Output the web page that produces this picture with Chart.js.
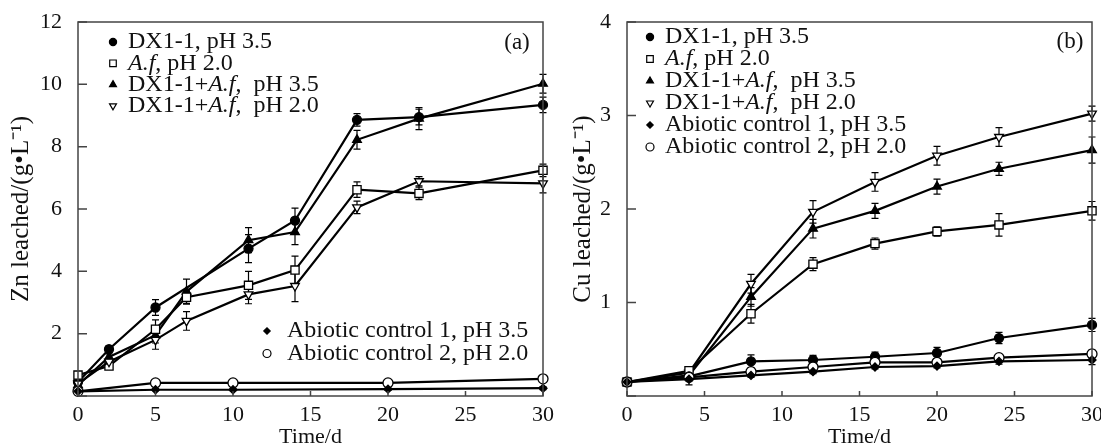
<!DOCTYPE html>
<html>
<head>
<meta charset="utf-8">
<script src="https://cdn.jsdelivr.net/npm/chart.js@4.4.0/dist/chart.umd.min.js"></script>
<style>
body { margin: 0; background: #fff; width: 1101px; height: 448px; overflow: hidden; }
.panel { position: absolute; top: 0; height: 448px; }
#panelA { left: 0; width: 565px; }
#panelB { left: 550px; width: 551px; }
</style>
</head>
<body>
<div class="panel" id="panelA"><canvas id="chartA" width="565" height="448"></canvas></div>
<div class="panel" id="panelB"><canvas id="chartB" width="551" height="448"></canvas></div>
<script>
// leaching data, days and g/L

// (a) zinc
var znDays = [0, 2, 5, 7, 11, 14, 18, 22, 30];
var znDaysDx = [0, 2, 5, 11, 14, 18, 22, 30];
var znDaysCtrl = [0, 5, 10, 20, 30];

var znDx = [0.45, 1.5, 2.84, 4.73, 5.63, 8.86, 8.95, 9.34];
var znDxErr = [0.08, 0.1, 0.25, 0.45, 0.4, 0.2, 0.25, 0.25];
var znAf = [0.67, 0.96, 2.14, 3.17, 3.55, 4.04, 6.62, 6.5, 7.24];
var znAfErr = [0.1, 0.08, 0.3, 0.2, 0.45, 0.45, 0.25, 0.2, 0.2];
var znMix35 = [0.35, 1.25, 1.95, 3.35, 5.0, 5.26, 8.22, 8.9, 10.02];
var znMix35Err = [0.08, 0.1, 0.25, 0.4, 0.4, 0.4, 0.3, 0.35, 0.3];
var znMix20 = [0.4, 1.1, 1.8, 2.41, 3.26, 3.53, 6.05, 6.89, 6.82];
var znMix20Err = [0.08, 0.1, 0.3, 0.3, 0.3, 0.5, 0.2, 0.15, 0.3];
var znCtrl1 = [0.15, 0.2, 0.2, 0.22, 0.25];
var znCtrl1Err = [0.03, 0.03, 0.03, 0.03, 0.05];
var znCtrl2 = [0.15, 0.42, 0.42, 0.42, 0.55];
var znCtrl2Err = [0.03, 0.03, 0.03, 0.03, 0.05];

// (b) copper
var cuDays = [0, 4, 8, 12, 16, 20, 24, 30];
var cuDx = [0.15, 0.21, 0.37, 0.385, 0.42, 0.46, 0.62, 0.76];
var cuDxErr = [0.02, 0.03, 0.07, 0.05, 0.05, 0.06, 0.06, 0.07];
var cuAf = [0.15, 0.27, 0.88, 1.41, 1.63, 1.76, 1.83, 1.98];
var cuAfErr = [0.02, 0.03, 0.1, 0.07, 0.06, 0.05, 0.12, 0.1];
var cuMix35 = [0.15, 0.22, 1.06, 1.79, 1.98, 2.24, 2.43, 2.63];
var cuMix35Err = [0.02, 0.03, 0.1, 0.1, 0.08, 0.08, 0.07, 0.14];
var cuMix20 = [0.15, 0.25, 1.2, 1.97, 2.29, 2.57, 2.77, 3.02];
var cuMix20Err = [0.02, 0.05, 0.1, 0.12, 0.1, 0.1, 0.1, 0.08];
var cuCtrl1 = [0.15, 0.18, 0.22, 0.26, 0.31, 0.32, 0.37, 0.385];
var cuCtrl1Err = [0.02, 0.06, 0.02, 0.02, 0.02, 0.02, 0.03, 0.05];
var cuCtrl2 = [0.15, 0.2, 0.26, 0.31, 0.36, 0.36, 0.41, 0.45];
var cuCtrl2Err = [0.02, 0.03, 0.03, 0.03, 0.03, 0.03, 0.03, 0.04];

var serif = "'Liberation Serif', 'Times New Roman', serif";

// marker look for each strain / condition
var styles = {
	dx: { pointStyle: 'circle', pointRadius: 4.5, pointBackgroundColor: '#000' },
	af: { pointStyle: 'rect', pointRadius: 5.8, pointBackgroundColor: '#fff' },
	mix35: { pointStyle: 'triangle', pointRadius: 5, pointBackgroundColor: '#000' },
	mix20: { pointStyle: 'triangle', pointRotation: 180, pointRadius: 5, pointBackgroundColor: '#fff' },
	ctrl1: { pointStyle: 'rectRot', pointRadius: 4, pointBackgroundColor: '#000' },
	ctrl2: { pointStyle: 'circle', pointRadius: 5, pointBackgroundColor: '#fff' }
};

// legend text, italic parts flagged with true
var names = {
	dx: [['DX1-1, pH 3.5', false]],
	af: [['A.f', true], [', pH 2.0', false]],
	mix35: [['DX1-1+', false], ['A.f', true], [',  pH 3.5', false]],
	mix20: [['DX1-1+', false], ['A.f', true], [',  pH 2.0', false]],
	ctrl1: [['Abiotic control 1, pH 3.5', false]],
	ctrl2: [['Abiotic control 2, pH 2.0', false]]
};

function series(key, days, vals, errs) {
	var pts = [];
	for (var i = 0; i < days.length; i++) {
		pts.push({ x: days[i], y: vals[i] });
	}
	var ds = {
		key: key,
		label: key,
		data: pts,
		err: errs,
		borderColor: '#000',
		borderWidth: 2.2,
		pointBorderColor: '#000',
		pointBorderWidth: 1.3,
		pointHoverRadius: 5,
		tension: 0,
		clip: false
	};
	var st = styles[key];
	for (var k in st) ds[k] = st[k];
	return ds;
}

// error bars go under the markers
var errorBars = {
	id: 'errorBars',
	beforeDatasetsDraw: function(chart) {
		var ctx = chart.ctx;
		var xs = chart.scales.x, ys = chart.scales.y;
		ctx.save();
		ctx.strokeStyle = '#000';
		ctx.lineWidth = 1.2;
		chart.data.datasets.forEach(function(ds) {
			ds.data.forEach(function(p, i) {
				var e = ds.err[i];
				if (!e) return;
				var px = xs.getPixelForValue(p.x);
				var top = ys.getPixelForValue(p.y + e);
				var bot = ys.getPixelForValue(p.y - e);
				ctx.beginPath();
				ctx.moveTo(px, top); ctx.lineTo(px, bot);
				ctx.moveTo(px - 3.5, top); ctx.lineTo(px + 3.5, top);
				ctx.moveTo(px - 3.5, bot); ctx.lineTo(px + 3.5, bot);
				ctx.stroke();
			});
		});
		ctx.restore();
	}
};

function drawRich(ctx, parts, x, y, size) {
	for (var i = 0; i < parts.length; i++) {
		ctx.font = (parts[i][1] ? 'italic ' : '') + size + 'px ' + serif;
		ctx.fillText(parts[i][0], x, y);
		x += ctx.measureText(parts[i][0]).width;
	}
}

function legendMarker(ctx, key, x, y) {
	var st = styles[key];
	ctx.fillStyle = st.pointBackgroundColor;
	ctx.strokeStyle = '#000';
	ctx.lineWidth = 1.2;
	Chart.helpers.drawPoint(ctx, {
		pointStyle: st.pointStyle,
		rotation: st.pointRotation || 0,
		radius: st.pointRadius * 0.8,
		borderWidth: 1.2
	}, x, y);
}

// frame, inside ticks, legend blocks and the panel tag
function makeDeco(cfg) {
	return {
		id: 'deco',
		afterDraw: function(chart) {
			var ctx = chart.ctx;
			var a = chart.chartArea;
			var xs = chart.scales.x, ys = chart.scales.y;
			ctx.save();
			ctx.strokeStyle = '#444';
			ctx.lineWidth = 1.5;
			ctx.strokeRect(a.left, a.top, a.right - a.left, a.bottom - a.top);

			ctx.beginPath();
			xs.ticks.forEach(function(t) {
				var px = xs.getPixelForValue(t.value);
				ctx.moveTo(px, a.bottom); ctx.lineTo(px, a.bottom - 5);
			});
			ys.ticks.forEach(function(t) {
				var py = ys.getPixelForValue(t.value);
				ctx.moveTo(a.left, py); ctx.lineTo(a.left + 9, py);
			});
			ctx.stroke();

			ctx.textBaseline = 'middle';
			ctx.textAlign = 'left';
			cfg.blocks.forEach(function(b) {
				b.keys.forEach(function(key, i) {
					var y = b.y + i * b.step;
					legendMarker(ctx, key, b.mx, y);
					ctx.fillStyle = '#111';
					drawRich(ctx, names[key], b.tx, y, 24);
				});
			});

			ctx.fillStyle = '#111';
			ctx.textAlign = 'center';
			ctx.font = '23px ' + serif;
			ctx.fillText(cfg.tag, cfg.tagX, cfg.tagY);
			ctx.restore();
		}
	};
}

function makeChart(id, datasets, yMax, yStep, yTitle, yWidth, titlePad, rightPad, deco) {
	var tickFont = { family: serif, size: 22 };
	return new Chart(document.getElementById(id), {
		type: 'line',
		data: { datasets: datasets },
		options: {
			responsive: false,
			animation: false,
			layout: { padding: { top: 22, right: rightPad, left: 0, bottom: 0 } },
			plugins: { legend: { display: false }, tooltip: { enabled: false } },
			scales: {
				x: {
					type: 'linear', min: 0, max: 30,
					grid: { display: false },
					border: { display: false },
					ticks: { stepSize: 5, padding: -2, maxRotation: 0, color: '#111', font: tickFont },
					title: { display: true, text: 'Time/d', color: '#111', padding: 0, font: { family: serif, size: 22, lineHeight: 1 } },
					afterFit: function(s) { s.height = 52; s.paddingLeft = 0; s.paddingRight = 0; }
				},
				y: {
					min: 0, max: yMax,
					grid: { display: false },
					border: { display: false },
					ticks: {
						stepSize: yStep, padding: 8, color: '#111', font: tickFont,
						callback: function(v) { return v === 0 ? '' : v; }
					},
					title: { display: true, text: yTitle, color: '#111', padding: { top: titlePad, bottom: 0 }, font: { family: serif, size: 25, lineHeight: 1 } },
					afterFit: function(s) { s.width = yWidth; s.paddingTop = 0; s.paddingBottom = 0; }
				}
			}
		},
		plugins: [errorBars, makeDeco(deco)]
	});
}

var zinc = [
	series('ctrl1', znDaysCtrl, znCtrl1, znCtrl1Err),
	series('ctrl2', znDaysCtrl, znCtrl2, znCtrl2Err),
	series('mix20', znDays, znMix20, znMix20Err),
	series('af', znDays, znAf, znAfErr),
	series('mix35', znDays, znMix35, znMix35Err),
	series('dx', znDaysDx, znDx, znDxErr)
];

var copper = [
	series('ctrl1', cuDays, cuCtrl1, cuCtrl1Err),
	series('ctrl2', cuDays, cuCtrl2, cuCtrl2Err),
	series('dx', cuDays, cuDx, cuDxErr),
	series('af', cuDays, cuAf, cuAfErr),
	series('mix35', cuDays, cuMix35, cuMix35Err),
	series('mix20', cuDays, cuMix20, cuMix20Err)
];

makeChart('chartA', zinc, 12, 2, 'Zn leached/(g\u2022L\u207B\u00B9)', 78, 9, 22, {
	tag: '(a)', tagX: 517, tagY: 43,
	blocks: [
		{ keys: ['dx', 'af', 'mix35', 'mix20'], mx: 113, tx: 128, y: 42, step: 21.3 },
		{ keys: ['ctrl1', 'ctrl2'], mx: 267, tx: 287, y: 331, step: 22.5 }
	]
});

makeChart('chartB', copper, 4, 1, 'Cu leached/(g\u2022L\u207B\u00B9)', 77, 21, 9, {
	tag: '(b)', tagX: 520, tagY: 42,
	blocks: [
		{ keys: ['dx', 'af', 'mix35', 'mix20', 'ctrl1', 'ctrl2'], mx: 100, tx: 115, y: 37, step: 22 }
	]
});
</script>
</body>
</html>
